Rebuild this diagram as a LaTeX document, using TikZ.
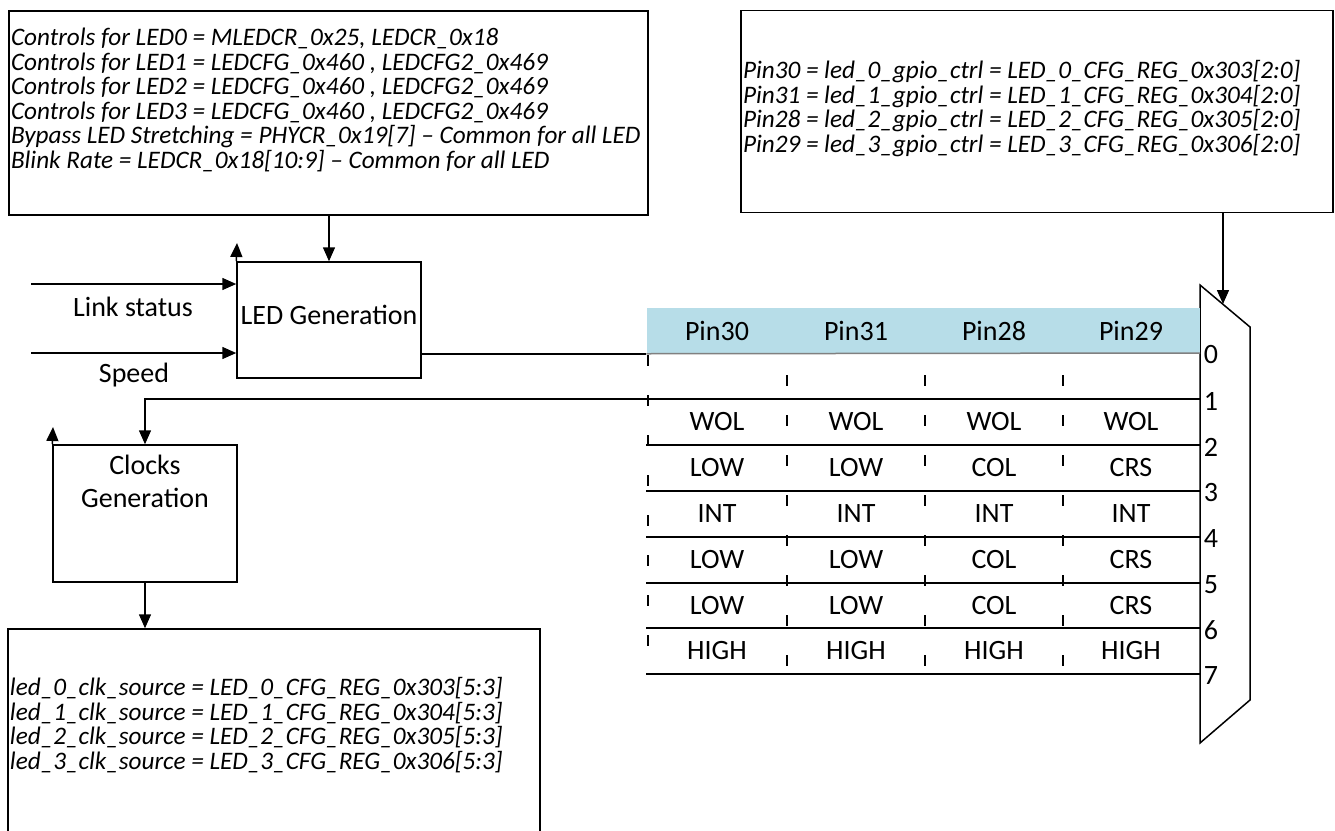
\documentclass[tikz,border=0pt]{standalone}
\usepackage{fontspec}
\setmainfont{Carlito}
\usepackage{tikz}
\usetikzlibrary{arrows.meta,positioning}
\definecolor{pinblue}{RGB}{183,221,232}
\tikzset{blk/.style={draw,rectangle,line width=0.75pt,inner sep=0pt}}
\tikzset{lbl/.style={font=\fontsize{14}{16.5}\selectfont,inner sep=0pt}}
\tikzset{reg/.style={font=\fontsize{12.6}{12.3}\selectfont\itshape,align=left,inner sep=0pt}}
\tikzset{tick/.style={line width=0.75pt,dash pattern=on 5.5pt off 14.5pt}}

\begin{document}
\begin{tikzpicture}[>={Triangle[length=7pt,width=6pt]},x=0.5pt,y=-0.5pt,line width=0.75pt]
    \clip (0,0) rectangle (1335,831);

    % register boxes
    \node[blk,minimum width=319.5pt,minimum height=102pt,
      label={[reg,anchor=west,xshift=1pt,yshift=6.5pt]west:{Controls for LED0 = MLEDCR\_0x25, LEDCR\_0x18\\
      Controls for LED1 = LEDCFG\_0x460 , LEDCFG2\_0x469\\
      Controls for LED2 = LEDCFG\_0x460 , LEDCFG2\_0x469\\
      Controls for LED3 = LEDCFG\_0x460 , LEDCFG2\_0x469\\
      Bypass LED Stretching = PHYCR\_0x19[7] -- Common for all LED\\
      Blink Rate = LEDCR\_0x18[10:9] -- Common for all LED}}] (topl)at (328.5,113) {};
    \node[blk,minimum width=296pt,minimum height=101pt,
      label={[reg,anchor=west,xshift=1pt,yshift=1.5pt]west:{Pin30 = led\_0\_gpio\_ctrl = LED\_0\_CFG\_REG\_0x303[2:0]\\
      Pin31 = led\_1\_gpio\_ctrl = LED\_1\_CFG\_REG\_0x304[2:0]\\
      Pin28 = led\_2\_gpio\_ctrl = LED\_2\_CFG\_REG\_0x305[2:0]\\
      Pin29 = led\_3\_gpio\_ctrl = LED\_3\_CFG\_REG\_0x306[2:0]}}] (trbox)at (1037,111.5) {};
    \node[blk,minimum width=266pt,minimum height=150pt,
      label={[reg,anchor=west,xshift=1pt,yshift=27pt]west:{led\_0\_clk\_source = LED\_0\_CFG\_REG\_0x303[5:3]\\
      led\_1\_clk\_source = LED\_1\_CFG\_REG\_0x304[5:3]\\
      led\_2\_clk\_source = LED\_2\_CFG\_REG\_0x305[5:3]\\
      led\_3\_clk\_source = LED\_3\_CFG\_REG\_0x306[5:3]}}] (botbox)at (274,779) {};

    % blocks
    \node[blk,minimum width=92pt,minimum height=58pt,
      label={[lbl,yshift=2.5pt]center:LED Generation}] (ledgen)at (329,320) {};
    \node[blk,minimum width=92pt,minimum height=68.5pt,
      label={[lbl,align=center,yshift=16pt]center:{Clocks\\Generation}}] (clkgen)at (145,513.5) {};

    % mux
    \draw (1200,285) -- (1250,327) -- (1250,700) -- (1200,743) -- cycle;
    \coordinate (muxsel) at (1223,304);
    \coordinate (in0) at (1200,353);
    \coordinate (in1) at (1200,399);
    \coordinate (in2) at (1200,445);
    \coordinate (in3) at (1200,491);
    \coordinate (in4) at (1200,537);
    \coordinate (in5) at (1200,583);
    \coordinate (in6) at (1200,628);
    \coordinate (in7) at (1200,674);
    \node[lbl,anchor=west] (n0)at ([xshift=1.5pt,yshift=-1pt]in0) {0};
    \node[lbl,anchor=west] (n1)at ([xshift=1.5pt,yshift=-1pt]in1) {1};
    \node[lbl,anchor=west] (n2)at ([xshift=1.5pt,yshift=-1pt]in2) {2};
    \node[lbl,anchor=west] (n3)at ([xshift=1.5pt,yshift=-1pt]in3) {3};
    \node[lbl,anchor=west] (n4)at ([xshift=1.5pt,yshift=-1pt]in4) {4};
    \node[lbl,anchor=west] (n5)at ([xshift=1.5pt,yshift=-1pt]in5) {5};
    \node[lbl,anchor=west] (n6)at ([xshift=1.5pt,yshift=-1pt]in6) {6};
    \node[lbl,anchor=west] (n7)at ([xshift=1.5pt,yshift=-1pt]in7) {7};

    % pin table
    \node[fill=pinblue,minimum width=276.5pt,minimum height=22.5pt,inner sep=0pt] (hdr)at (923.5,330.5) {};
    \node[lbl] (p30)at (717,331) {Pin30};
    \node[lbl] (p31)at (856,331) {Pin31};
    \node[lbl] (p28)at (994,331) {Pin28};
    \node[lbl] (p29)at (1131,331) {Pin29};

    \node[lbl] (a2)at (717,422) {WOL};
    \node[lbl] (b2)at (856,422) {WOL};
    \node[lbl] (c2)at (994,422) {WOL};
    \node[lbl] (d2)at (1131,422) {WOL};
    \node[lbl] (a3)at (717,468) {LOW};
    \node[lbl] (b3)at (856,468) {LOW};
    \node[lbl] (c3)at (994,468) {COL};
    \node[lbl] (d3)at (1131,468) {CRS};
    \node[lbl] (a4)at (717,514) {INT};
    \node[lbl] (b4)at (856,514) {INT};
    \node[lbl] (c4)at (994,514) {INT};
    \node[lbl] (d4)at (1131,514) {INT};
    \node[lbl] (a5)at (717,560) {LOW};
    \node[lbl] (b5)at (856,560) {LOW};
    \node[lbl] (c5)at (994,560) {COL};
    \node[lbl] (d5)at (1131,560) {CRS};
    \node[lbl] (a6)at (717,606) {LOW};
    \node[lbl] (b6)at (856,606) {LOW};
    \node[lbl] (c6)at (994,606) {COL};
    \node[lbl] (d6)at (1131,606) {CRS};
    \node[lbl] (a7)at (717,651) {HIGH};
    \node[lbl] (b7)at (856,651) {HIGH};
    \node[lbl] (c7)at (994,651) {HIGH};
    \node[lbl] (d7)at (1131,651) {HIGH};

    \draw [tick] (648,355) -- (648,650);
    \draw [tick] (787,375) -- (787,670);
    \draw [tick] (925,375) -- (925,670);
    \draw [tick] (1063,375) -- (1063,670);

    % inputs
    \coordinate (lsin) at (31,284);
    \coordinate (spin) at (31,353);
    \node[lbl] (ls)at (133,307) {Link status};
    \node[lbl] (sp)at (134,375) {Speed};
    \coordinate (ledup) at (237,243);
    \coordinate (clkup) at (53,427);

    \draw [->] (lsin) -- (lsin -| ledgen.west);
    \draw [->] (spin) -- (spin -| ledgen.west);
    \draw [->] (topl.south -| ledgen.north) -- (ledgen.north);
    \draw [->] (ledgen.north west) -- (ledup);
    \draw [->] (clkgen.north west) -- (clkup);
    \draw [->] (trbox.south -| muxsel) -- (muxsel);
    \draw [] (ledgen.east |- hdr.south west) -- (hdr.south west);
    \draw [gray] (hdr.south west) -- (in0);
    \draw [->] (in1) -| (clkgen.north);
    \draw [] (in2) -- (in2 -| hdr.west);
    \draw [] (in3) -- (in3 -| hdr.west);
    \draw [] (in4) -- (in4 -| hdr.west);
    \draw [] (in5) -- (in5 -| hdr.west);
    \draw [] (in6) -- (in6 -| hdr.west);
    \draw [] (in7) -- (in7 -| hdr.west);
    \draw [->] (clkgen.south) -- (clkgen.south |- botbox.north);
\end{tikzpicture}
\end{document}
